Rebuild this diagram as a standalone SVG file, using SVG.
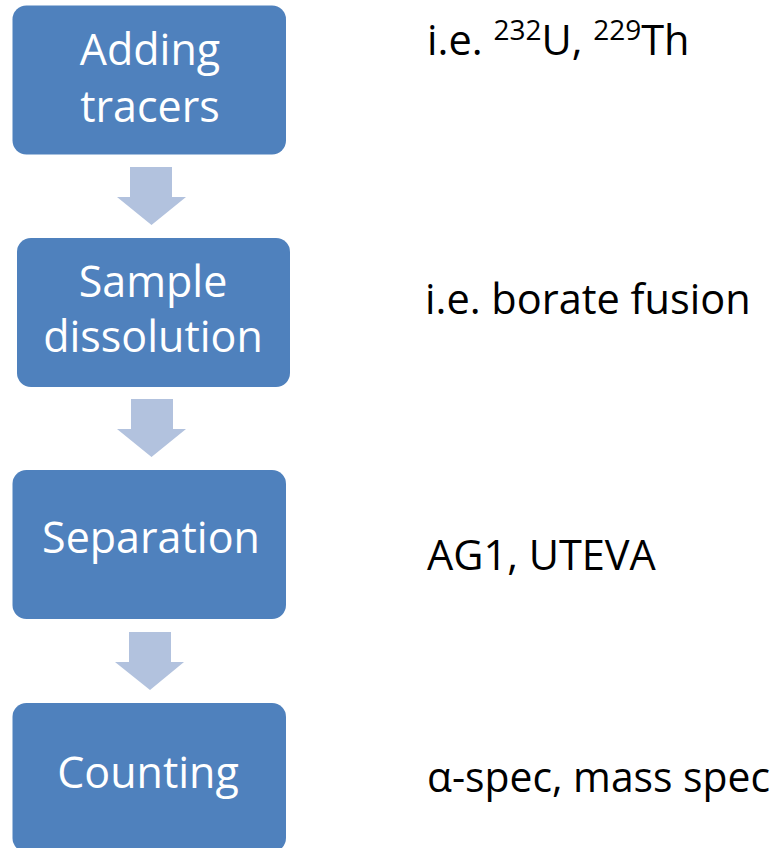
<svg xmlns="http://www.w3.org/2000/svg" width="778" height="848" viewBox="0 0 778 848">
  <style>
    .box { fill: #4F81BD; }
    .step { fill: #B2C2DE; }
    .label { font-family: "Open Sans", "Liberation Sans", sans-serif; font-size: 43px; fill: #FFFFFF; text-anchor: middle; }
    .note { font-family: "Open Sans", "Liberation Sans", sans-serif; font-size: 41.5px; fill: #000000; }
    .sup { font-size: 28px; }
  </style>
  <rect width="778" height="848" fill="#FFFFFF"/>

  <!-- process boxes -->
  <g id="node-adding-tracers">
    <rect class="box" x="12.5" y="5.5" width="273.5" height="149" rx="14"/>
    <text class="label" x="150" y="65">Adding</text>
    <text class="label" x="150" y="122">tracers</text>
  </g>
  <g id="node-sample-dissolution">
    <rect class="box" x="17" y="238" width="273" height="149" rx="14"/>
    <text class="label" x="153" y="297">Sample</text>
    <text class="label" x="153" y="352">dissolution</text>
  </g>
  <g id="node-separation">
    <rect class="box" x="12.5" y="470" width="273.5" height="149" rx="14"/>
    <text class="label" x="151" y="553">Separation</text>
  </g>
  <g id="node-counting">
    <rect class="box" x="12.5" y="703" width="273.5" height="149" rx="14"/>
    <text class="label" x="148" y="788">Counting</text>
  </g>

  <!-- downward block arrows between steps -->
  <g id="connectors">
    <polygon class="step" points="130,167 172,167 172,197 186,197 151.5,225 117,197 130,197"/>
    <polygon class="step" points="131,399 173,399 173,429 186,429 151.5,457 117,429 131,429"/>
    <polygon class="step" points="129,632 171,632 171,662 184,662 150,690 115,662 129,662"/>
  </g>

  <!-- annotations -->
  <g id="notes">
    <text class="note" x="427" y="55">i.e. <tspan class="sup" dy="-15">232</tspan><tspan dy="15">U, </tspan><tspan class="sup" dy="-15">229</tspan><tspan dy="15">Th</tspan></text>
    <text class="note" x="425" y="314">i.e. borate fusion</text>
    <text class="note" x="427" y="570">AG1, UTEVA</text>
    <text class="note" x="427" y="792" textLength="343" lengthAdjust="spacingAndGlyphs">α-spec, mass spec</text>
  </g>
</svg>
